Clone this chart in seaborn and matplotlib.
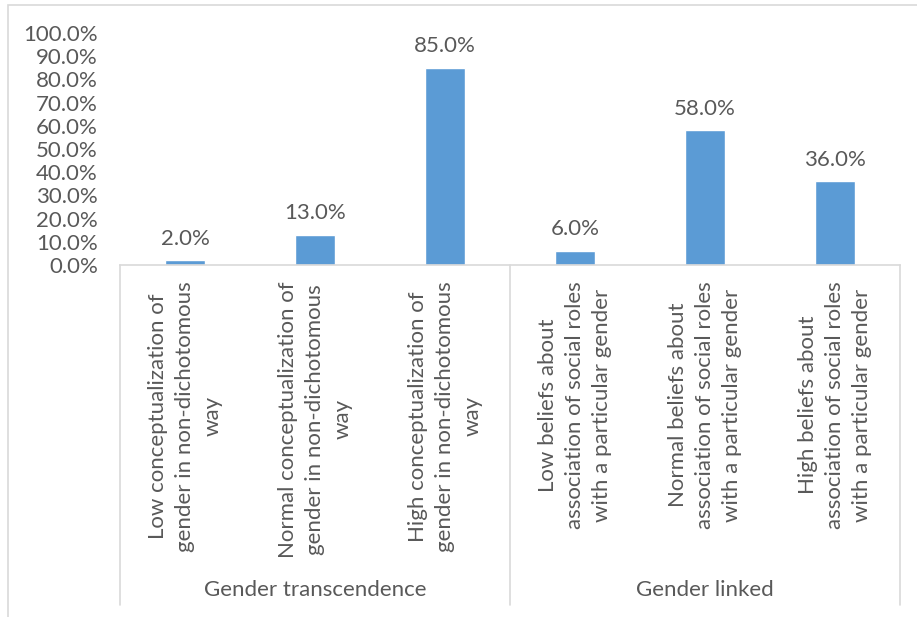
import matplotlib
matplotlib.use("Agg")
import matplotlib.pyplot as plt
import matplotlib.transforms as mtransforms
from matplotlib.patches import Rectangle
from matplotlib.lines import Line2D
import seaborn as sns
import pandas as pd

categories = [
    "Low conceptualization of\ngender in non-dichotomous\nway",
    "Normal conceptualization of\ngender in non-dichotomous\nway",
    "High conceptualization of\ngender in non-dichotomous\nway",
    "Low beliefs about\nassociation of social roles\nwith a particular gender",
    "Normal beliefs about\nassociation of social roles\nwith a particular gender",
    "High beliefs about\nassociation of social roles\nwith a particular gender",
]
values = [2.0, 13.0, 85.0, 6.0, 58.0, 36.0]
groups = ["Gender transcendence", "Gender linked"]
group_sizes = [3, 3]
y_ticks = [0, 10, 20, 30, 40, 50, 60, 70, 80, 90, 100]

sns.set_theme(style="white")
plt.rcParams["font.family"] = ["Lato", "DejaVu Sans"]

TEXT = "#595959"
GRID = "#D9D9D9"
BAR = "#5B9BD5"
FS = 16

W, H = 917, 617
fig = plt.figure(figsize=(W / 100, H / 100), dpi=100)

# outer chart border
fig.patches.append(Rectangle((8 / W, -0.01), 1.0, 1 - 5 / H + 0.01,
                             transform=fig.transFigure, fill=False,
                             edgecolor=GRID, linewidth=1.2))

ax = fig.add_axes([120 / W, 1 - 265 / H, 780 / W, 232 / H])
df = pd.DataFrame({"cat": categories, "val": values})
sns.barplot(data=df, x="cat", y="val", order=categories, color=BAR,
            saturation=1, width=0.315, ax=ax)
ax.set_xlim(-0.5, len(categories) - 0.5)
ax.set_ylim(0, 100)
ax.set_yticks(y_ticks)
ax.set_yticklabels([f"{t:.1f}%" for t in y_ticks], fontsize=FS, color=TEXT)
ax.tick_params(axis="y", length=0, pad=16)
ax.set_xticks([])
ax.set_xlabel("")
ax.set_ylabel("")
for s in ["top", "right", "left"]:
    ax.spines[s].set_visible(False)
ax.spines["bottom"].set_color(GRID)
ax.spines["bottom"].set_linewidth(1.2)

# value labels
for i, v in enumerate(values):
    ax.annotate(f"{v:.1f}%", (i, v), xytext=(0, 8.5), textcoords="offset points",
                ha="center", va="bottom", fontsize=FS, color=TEXT)

# rotated category labels under the axis
trans = mtransforms.blended_transform_factory(ax.transData, fig.transFigure)
for i, c in enumerate(categories):
    ax.text(i, 1 - 281 / H, c, transform=trans, rotation=90, ha="center",
            va="top", multialignment="center", fontsize=FS, color=TEXT,
            linespacing=1.45)

# group separators and group names
start = 0
edges = [-0.5]
for g, n in zip(groups, group_sizes):
    mid = start + (n - 1) / 2
    ax.text(mid, 1 - 590 / H, g, transform=trans, ha="center", va="center",
            fontsize=FS, color=TEXT)
    start += n
    edges.append(start - 0.5)
for e in edges:
    ax.add_line(Line2D([e, e], [1 - 265 / H, 1 - 605 / H], transform=trans,
                       color=GRID, linewidth=1.2, clip_on=False))

fig.savefig("out.png", dpi=100)
